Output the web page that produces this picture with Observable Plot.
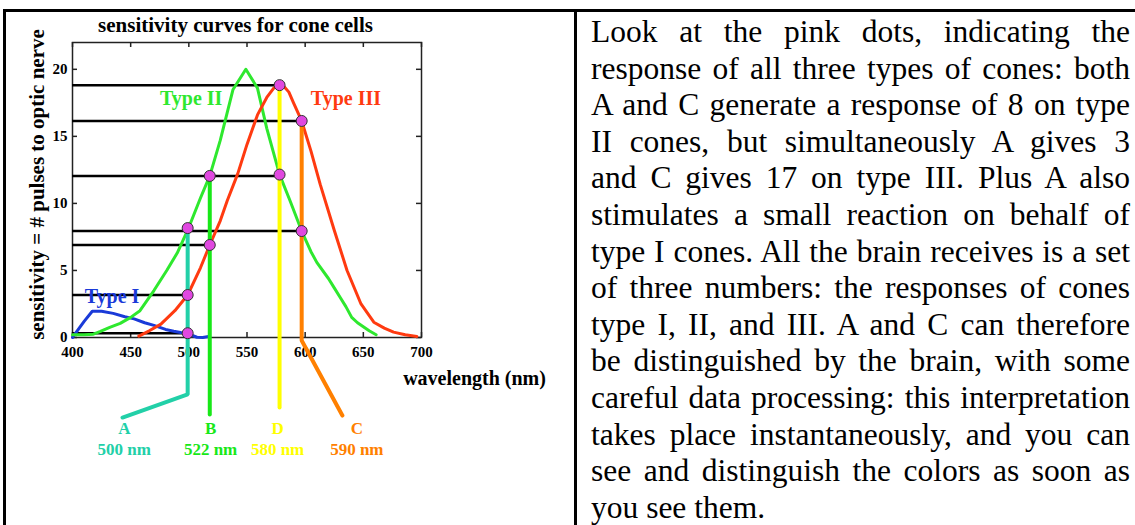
<!DOCTYPE html>
<html><head><meta charset="utf-8">
<script src="https://cdn.jsdelivr.net/npm/d3@7"></script>
<script src="https://cdn.jsdelivr.net/npm/@observablehq/plot@0.6"></script>
<style>
html,body{margin:0;padding:0;background:#fff;}
#page{position:relative;width:1135px;height:525px;overflow:hidden;background:#fff;}
#chart{position:absolute;left:0;top:0;}
.rule{position:absolute;background:#000;z-index:2;}
#text{position:absolute;left:591px;top:14px;width:539px;font-family:"Liberation Serif","Times New Roman",serif;font-size:31.5px;line-height:36.6px;color:#000;}
#text div{text-align:justify;text-align-last:justify;white-space:nowrap;}
#text div.last{text-align-last:left;}
</style>
</head><body>
<div id="page">
  <div id="chart"></div>
  <div class="rule" style="left:3px;top:9px;width:1132px;height:3px;"></div>
  <div class="rule" style="left:3px;top:9px;width:3px;height:516px;"></div>
  <div class="rule" style="left:574px;top:9px;width:3px;height:516px;"></div>
  <div id="text"></div>
</div>
<script>
// ---- chart text ----
const title = "sensitivity curves for cone cells";
const xLabel = "wavelength (nm)";
const yLabel = "sensitivity = # pulses to optic nerve";
const xTicks = [400, 450, 500, 550, 600, 650, 700];
const yTicks = [0, 5, 10, 15, 20];

// ---- sensitivity curves ----
const typeI_nm  = [400, 405, 410, 417, 425, 435, 445, 453, 462, 470, 480, 487, 493, 499, 503, 507, 512, 517];
const typeI_val = [0.0, 0.6, 1.2, 1.96, 1.95, 1.8, 1.55, 1.39, 1.1, 0.9, 0.6, 0.47, 0.38, 0.32, 0.15, 0.02, 0.0, 0.08];

const typeII_nm  = [400, 410, 418, 424, 432, 441, 450, 458, 470, 481, 490, 499, 510, 518, 527, 538, 549, 559, 567, 578, 587, 597, 605, 610, 620, 625, 630, 635, 640, 645, 650, 655, 661];
const typeII_val = [0.2, 0.2, 0.25, 0.45, 0.75, 1.05, 1.5, 2.0, 3.5, 5.0, 6.3, 8.0, 10.4, 12.05, 14.7, 18.5, 20.0, 18.6, 15.6, 12.15, 10.2, 7.94, 6.4, 5.6, 4.4, 3.7, 3.0, 2.3, 1.5, 1.1, 0.8, 0.5, 0.2];

const typeIII_nm  = [457, 466, 476, 488, 499, 510, 518, 527, 533, 542, 550, 559, 567, 573, 578, 582, 586, 590, 597, 605, 613, 625, 636, 648, 659, 668, 676, 686, 696];
const typeIII_val = [0.1, 0.5, 1.0, 2.0, 3.17, 5.2, 6.9, 8.7, 10.2, 12.2, 14.4, 16.6, 17.9, 18.6, 18.82, 18.7, 18.3, 17.5, 16.15, 13.9, 11.4, 8.0, 5.0, 2.5, 1.14, 0.7, 0.4, 0.2, 0.07];

const curveNames  = ["Type I", "Type II", "Type III"];
const curveColors = ["#1a3ad8", "#2ee82e", "#ff3a10"];
const curveLabelNm  = [434, 502, 635];
const curveLabelVal = [3.06, 17.8, 17.8];

// ---- stimuli A, B, D, C ----
const stimNames  = ["A", "B", "D", "C"];
const stimLabels = ["500 nm", "522 nm", "580 nm", "590 nm"];
const stimColors = ["#22d0a8", "#18e818", "#ffff00", "#ff8000"];
const stimNm     = [499, 518, 578, 597];
// leader lines: list of [nm, value] vertices, per stimulus
const stimLeaders = [
  [[499, 8.16], [499, -4.25], [443, -5.97]],
  [[518, 12.05], [518, -5.74]],
  [[578, 18.82], [578, -5.22]],
  [[597, 16.15], [597, -0.22], [632, -5.82]]
];
const stimLabelNm = [444.5, 518.7, 576.3, 644.4];
const stimLetterVal = [-6.79, -6.79, -6.79, -6.79];
const stimNmVal     = [-8.35, -8.35, -8.35, -8.35];

// responses (pink dots)
const dotStim = ["A", "A", "A", "B", "B", "D", "D", "C", "C"];
const dotNm   = [499, 499, 499, 518, 518, 578, 578, 597, 597];
const dotVal  = [0.32, 3.17, 8.16, 6.9, 12.05, 12.15, 18.82, 7.94, 16.15];

// horizontal guide lines from the y axis to the dots
const guideVal = [18.82, 16.15, 12.05, 7.94, 6.9, 3.17, 0.32];
const guideTo  = [578, 597, 578, 597, 518, 499, 499];

// ---- paragraph (lines as in the picture) ----
const paragraph = [
  "Look at the pink dots, indicating the",
  "response of all three types of cones: both",
  "A and C generate a response of 8 on type",
  "II cones, but simultaneously A gives 3",
  "and C gives 17 on type III. Plus A also",
  "stimulates a small reaction on behalf of",
  "type I cones. All the brain receives is a set",
  "of three numbers: the responses of cones",
  "type I, II, and III. A and C can therefore",
  "be distinguished by the brain, with some",
  "careful data processing: this interpretation",
  "takes place instantaneously, and you can",
  "see and distinguish the colors as soon as",
  "you see them."
];

// ---- build tables ----
const curves = [
  typeI_nm.map((x, i) => ({type: "Type I", x, y: typeI_val[i]})),
  typeII_nm.map((x, i) => ({type: "Type II", x, y: typeII_val[i]})),
  typeIII_nm.map((x, i) => ({type: "Type III", x, y: typeIII_val[i]}))
];
const leaders = stimLeaders.flatMap((pts, i) => pts.map(([x, y]) => ({stim: stimNames[i], color: stimColors[i], x, y})));
const guides = guideVal.map((y, i) => ({y, x1: 400, x2: guideTo[i]}));
const dots = dotNm.map((x, i) => ({x, y: dotVal[i]}));
const stimTable = stimNames.map((s, i) => ({s, label: stimLabels[i], color: stimColors[i], x: stimLabelNm[i], y1: stimLetterVal[i], y2: stimNmVal[i]}));
const curveLabels = curveNames.map((n, i) => ({n, color: curveColors[i], x: curveLabelNm[i], y: curveLabelVal[i]}));

const FF = "Liberation Serif";
const W = 574, H = 525;

const chart = Plot.plot({
  width: W, height: H,
  marginLeft: 72, marginRight: W - 421, marginTop: 42, marginBottom: H - 337,
  style: {background: "transparent", fontFamily: FF, overflow: "visible"},
  x: {domain: [400, 700], axis: null},
  y: {domain: [0, 22], axis: null},
  marks: [
    Plot.frame({stroke: "#222", strokeWidth: 1.5}),
    Plot.tickX(xTicks, {x: d => d, insetTop: 290, stroke: "#222", strokeWidth: 1.5}),
    Plot.tickX(xTicks, {x: d => d, insetBottom: 290, stroke: "#222", strokeWidth: 1.5}),
    Plot.tickY(yTicks, {y: d => d, insetRight: 344, stroke: "#222", strokeWidth: 1.5}),
    Plot.tickY(yTicks, {y: d => d, insetLeft: 344, stroke: "#222", strokeWidth: 1.5}),
    Plot.axisX({ticks: xTicks, tickSize: 0, tickPadding: 9, fontSize: 15, fontWeight: "bold", fontFamily: FF, label: null}),
    Plot.axisY({ticks: yTicks, tickSize: 0, tickPadding: 5, fontSize: 15, fontWeight: "bold", fontFamily: FF, label: null}),
    Plot.ruleY(guides, {y: "y", x1: "x1", x2: "x2", stroke: "#000", strokeWidth: 2.5}),
    ...curves.map((c, i) => Plot.line(c, {x: "x", y: "y", stroke: curveColors[i], strokeWidth: 3, strokeLinejoin: "round"})),
    Plot.line(leaders, {x: "x", y: "y", z: "stim", stroke: "color", strokeWidth: 4, strokeLinejoin: "miter"}),
    Plot.dot(dots, {x: "x", y: "y", r: 5.5, fill: "#e048e0", stroke: "#333", strokeWidth: 1}),
    Plot.text(curveLabels, {x: "x", y: "y", text: "n", fill: "color", fontSize: 20, fontWeight: "bold", fontFamily: FF}),
    Plot.text(stimTable, {x: "x", y: "y1", text: "s", fill: "color", fontSize: 17, fontWeight: "bold", fontFamily: FF}),
    Plot.text(stimTable, {x: "x", y: "y2", text: "label", fill: "color", fontSize: 17, fontWeight: "bold", fontFamily: FF}),
    Plot.text([title], {frameAnchor: "top", dx: -11.5, dy: -17, text: d => d, textAnchor: "middle", lineAnchor: "middle", fontSize: 21, fontWeight: "bold", fontFamily: FF, fill: "#000"}),
    Plot.text([xLabel], {frameAnchor: "bottom-right", dx: 53, dy: 41, text: d => d, textAnchor: "middle", lineAnchor: "middle", fontSize: 20, fontWeight: "bold", fontFamily: FF, fill: "#000"}),
    Plot.text([yLabel], {frameAnchor: "left", dx: -35, dy: -5.5, rotate: -90, text: d => d, textAnchor: "middle", lineAnchor: "middle", fontSize: 21, fontWeight: "bold", fontFamily: FF, fill: "#000"})
  ]
});
document.getElementById("chart").appendChild(chart);

const textDiv = document.getElementById("text");
paragraph.forEach((line, i) => {
  const d = document.createElement("div");
  d.textContent = line;
  if (i === paragraph.length - 1) d.className = "last";
  textDiv.appendChild(d);
});
</script>
</body></html>
